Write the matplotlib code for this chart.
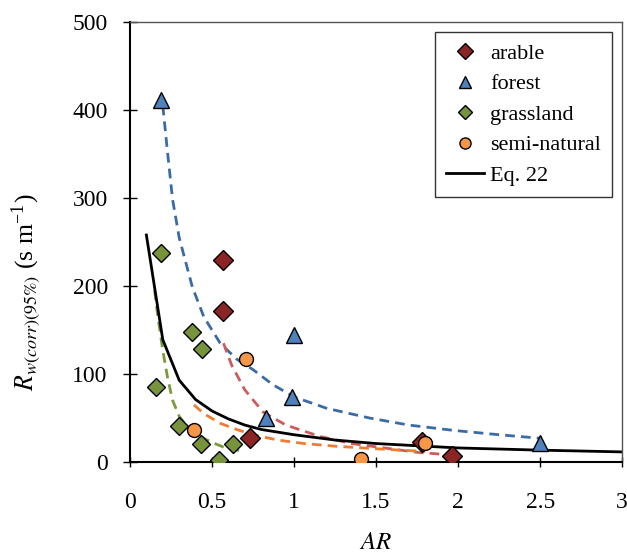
import numpy as np
import matplotlib.pyplot as plt

plt.rcParams['font.family'] = ['Liberation Serif', 'DejaVu Serif']
plt.rcParams['mathtext.fontset'] = 'stix'

# observed points
arable_x = [0.57, 0.57, 0.73, 1.78, 1.96]
arable_y = [230, 172, 27, 23, 7]
forest_x = [0.19, 1.0, 0.99, 0.83, 2.50]
forest_y = [411, 144, 74, 50, 22]
grass_x = [0.19, 0.38, 0.44, 0.16, 0.30, 0.43, 0.63, 0.54]
grass_y = [238, 148, 129, 85, 41, 20, 21, 2]
semi_x = [0.71, 0.39, 1.80, 1.41]
semi_y = [117, 36, 22, 4]

# Eq. 22 curve
eq_x = [0.1, 0.2, 0.3, 0.4, 0.5, 0.6, 0.7, 0.8, 1.0, 1.25, 1.5, 2.0, 2.5, 3.0]
eq_y = [258, 139, 93, 71, 58, 49, 42, 37, 31, 25, 21, 16, 13.5, 11.5]

# dashed fit curves per land use
fit_forest_x = [0.20, 0.23, 0.26, 0.30, 0.38, 0.45, 0.55, 0.65, 0.75, 0.87, 1.0, 1.2, 1.46, 1.7, 1.97, 2.25, 2.5]
fit_forest_y = [405, 350, 298, 255, 199, 165, 135, 117, 105, 88, 74, 61, 50, 42, 36, 31, 27]
fit_arable_x = [0.57, 0.62, 0.7, 0.81, 0.95, 1.16, 1.35, 1.57, 1.75, 1.96]
fit_arable_y = [135, 110, 82, 57, 42, 29, 21, 15.5, 11, 8]
fit_grass_x = [0.15, 0.17, 0.2, 0.23, 0.26, 0.3, 0.35, 0.41, 0.47, 0.53, 0.59, 0.67]
fit_grass_y = [195, 165, 127, 95, 70, 52, 40, 31, 25, 20, 15.5, 13]
fit_semi_x = [0.39, 0.45, 0.55, 0.65, 0.75, 0.9, 1.06, 1.25, 1.46, 1.65, 1.8]
fit_semi_y = [65, 55, 44, 37, 31, 25, 21, 18, 15.5, 13.5, 12]

fig = plt.figure(figsize=(6.27, 5.52), dpi=100)
ax = fig.add_axes([0.2073, 0.163, 0.785, 0.797])

dash = (3.5, 2.2)
ax.plot(fit_forest_x, fit_forest_y, '--', color='#3b6ba5', lw=2, dashes=dash)
ax.plot(fit_arable_x, fit_arable_y, '--', color='#cd5c5c', lw=2, dashes=dash)
ax.plot(fit_grass_x, fit_grass_y, '--', color='#7a9a3c', lw=2, dashes=dash)
ax.plot(fit_semi_x, fit_semi_y, '--', color='#ed7d31', lw=2, dashes=dash)
ax.plot(eq_x, eq_y, '-', color='black', lw=2, label='Eq. 22')

ax.plot(arable_x, arable_y, 'D', ms=10, mfc='#8b2525', mec='black', mew=1, label='arable', zorder=5)
ax.plot(forest_x, forest_y, '^', ms=11, mfc='#4f81bd', mec='black', mew=1, label='forest', zorder=5)
ax.plot(grass_x, grass_y, 'D', ms=9, mfc='#77933c', mec='black', mew=1, label='grassland', zorder=5)
ax.plot(semi_x, semi_y, 'o', ms=10, mfc='#f79646', mec='black', mew=1, label='semi-natural', zorder=5)

ax.set_xlim(0, 3)
ax.set_ylim(0, 500)
ax.set_xticks([0, 0.5, 1, 1.5, 2, 2.5, 3])
ax.set_xticklabels(['0', '0.5', '1', '1.5', '2', '2.5', '3'])
ax.set_yticks([0, 100, 200, 300, 400, 500])
ax.tick_params(axis='x', direction='inout', length=7, width=1, labelsize=17, pad=18)
ax.tick_params(axis='y', direction='inout', length=10, width=1, labelsize=17, pad=11)

for s in ['left', 'bottom']:
    ax.spines[s].set_linewidth(1.5)
for s in ['top', 'right']:
    ax.spines[s].set_linewidth(1)
    ax.spines[s].set_color('#555555')

ax.set_xlabel('$AR$', fontsize=18)
ax.set_ylabel(r'$R_{\mathit{w(corr)(95\%)}}$ (s m$^{\mathregular{-1}}$)', fontsize=18.5)
ax.xaxis.set_label_coords(0.5, -0.158)
ax.yaxis.set_label_coords(-0.177, 0.386)

handles, labels = ax.get_legend_handles_labels()
order = [1, 2, 3, 4, 0]
leg = ax.legend([handles[i] for i in order], [labels[i] for i in order],
                loc='upper right', fontsize=16, frameon=True, fancybox=False,
                edgecolor='black', borderpad=0.5, labelspacing=0.45,
                handlelength=1.7, handletextpad=0.3, borderaxespad=0.45, markerscale=0.8)
leg.get_frame().set_linewidth(1)

fig.savefig('out.png', dpi=100)
